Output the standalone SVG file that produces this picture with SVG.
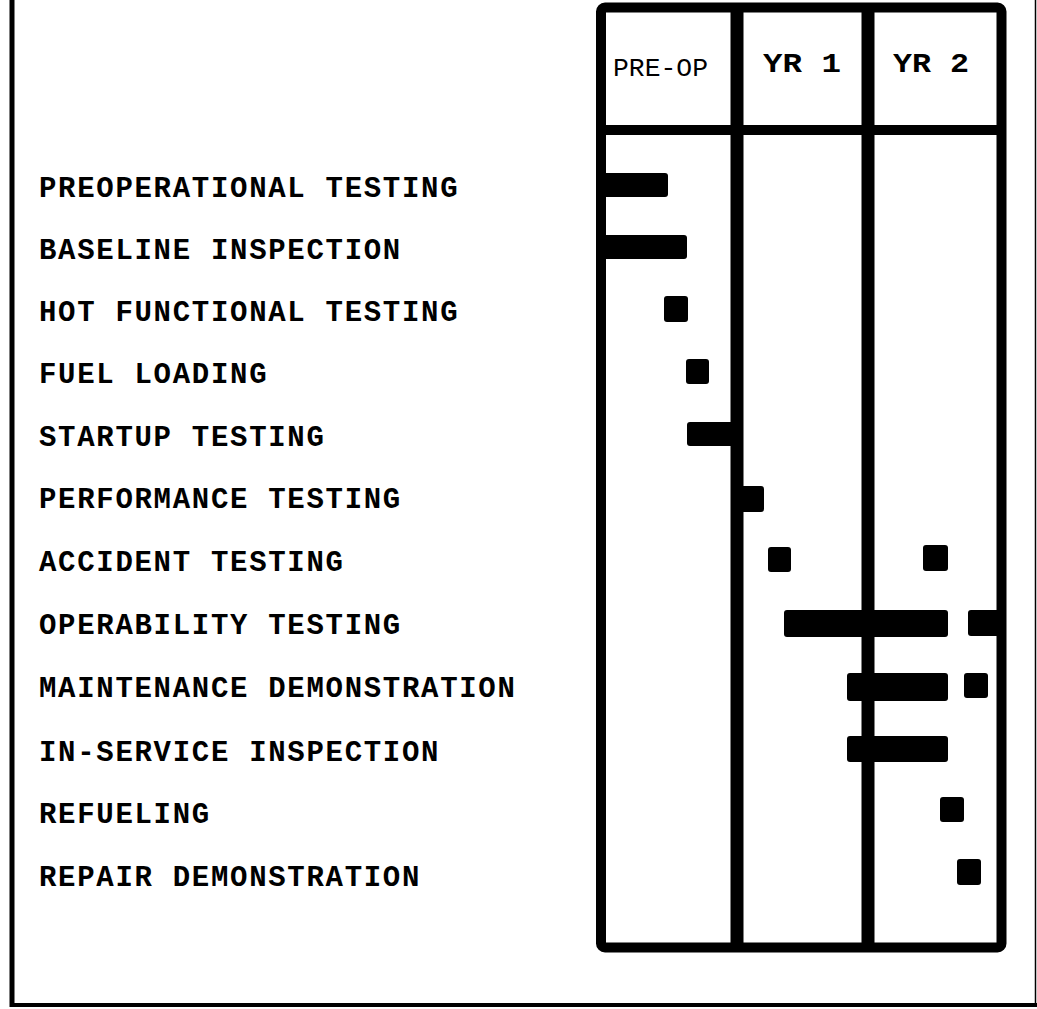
<svg xmlns="http://www.w3.org/2000/svg" width="1037" height="1009" viewBox="0 0 1037 1009">
<style>
.lbl{font-family:"Liberation Mono","Courier New",monospace;font-weight:bold;font-size:29px;letter-spacing:1.7px;fill:#000}
.hdr{font-family:"Liberation Mono","Courier New",monospace;font-weight:bold;font-size:27px;fill:#000}
.hdr2{font-family:"Liberation Mono","Courier New",monospace;font-weight:normal;font-size:26px;fill:#000}
.bar{fill:#000}
.grid{fill:none;stroke:#000}
</style>
<rect width="1037" height="1009" fill="#fff"/>
<g id="frame">
<line x1="12" y1="0" x2="12" y2="1007" stroke="#000" stroke-width="5"/>
<line x1="10" y1="1005" x2="1037" y2="1005" stroke="#000" stroke-width="4"/>
<line x1="1035.5" y1="0" x2="1035.5" y2="1005" stroke="#000" stroke-width="1.5"/>
</g>
<g id="grid">
<rect x="601" y="7.5" width="400.5" height="940" rx="4" class="grid" stroke-width="10"/>
<line x1="601" y1="130" x2="1001" y2="130" class="grid" stroke-width="10"/>
<line x1="737" y1="7" x2="737" y2="947" class="grid" stroke-width="13"/>
<line x1="868" y1="7" x2="868" y2="947" class="grid" stroke-width="13"/>
</g>
<g id="header">
<text class="hdr2" x="613" y="76" textLength="95" lengthAdjust="spacingAndGlyphs">PRE-OP</text>
<text class="hdr" x="763" y="72" textLength="78" lengthAdjust="spacingAndGlyphs">YR 1</text>
<text class="hdr" x="893" y="72" textLength="76" lengthAdjust="spacingAndGlyphs">YR 2</text>
</g>
<g id="row-preoperational-testing">
<text class="lbl" x="39" y="197">PREOPERATIONAL TESTING</text>
<rect class="bar" x="600" y="173" width="68" height="24" rx="3"/>
</g>
<g id="row-baseline-inspection">
<text class="lbl" x="39" y="259">BASELINE INSPECTION</text>
<rect class="bar" x="600" y="235" width="87" height="24" rx="3"/>
</g>
<g id="row-hot-functional-testing">
<text class="lbl" x="39" y="321">HOT FUNCTIONAL TESTING</text>
<rect class="bar" x="664" y="296" width="24" height="26" rx="3"/>
</g>
<g id="row-fuel-loading">
<text class="lbl" x="39" y="383">FUEL LOADING</text>
<rect class="bar" x="686" y="359" width="23" height="25" rx="3"/>
</g>
<g id="row-startup-testing">
<text class="lbl" x="39" y="446">STARTUP TESTING</text>
<rect class="bar" x="687" y="422" width="50" height="24" rx="3"/>
</g>
<g id="row-performance-testing">
<text class="lbl" x="39" y="508">PERFORMANCE TESTING</text>
<rect class="bar" x="736" y="486" width="28" height="26" rx="3"/>
</g>
<g id="row-accident-testing">
<text class="lbl" x="39" y="571">ACCIDENT TESTING</text>
<rect class="bar" x="768" y="547" width="23" height="25" rx="3"/>
<rect class="bar" x="923" y="545" width="25" height="26" rx="3"/>
</g>
<g id="row-operability-testing">
<text class="lbl" x="39" y="634">OPERABILITY TESTING</text>
<rect class="bar" x="784" y="610" width="164" height="27" rx="3"/>
<rect class="bar" x="968" y="610" width="33" height="26" rx="3"/>
</g>
<g id="row-maintenance-demonstration">
<text class="lbl" x="39" y="697">MAINTENANCE DEMONSTRATION</text>
<rect class="bar" x="847" y="673" width="101" height="28" rx="3"/>
<rect class="bar" x="964" y="673" width="24" height="25" rx="3"/>
</g>
<g id="row-in-service-inspection">
<text class="lbl" x="39" y="761">IN-SERVICE INSPECTION</text>
<rect class="bar" x="847" y="736" width="101" height="26" rx="3"/>
</g>
<g id="row-refueling">
<text class="lbl" x="39" y="823">REFUELING</text>
<rect class="bar" x="940" y="797" width="24" height="25" rx="3"/>
</g>
<g id="row-repair-demonstration">
<text class="lbl" x="39" y="886">REPAIR DEMONSTRATION</text>
<rect class="bar" x="957" y="859" width="24" height="26" rx="3"/>
</g>
</svg>
